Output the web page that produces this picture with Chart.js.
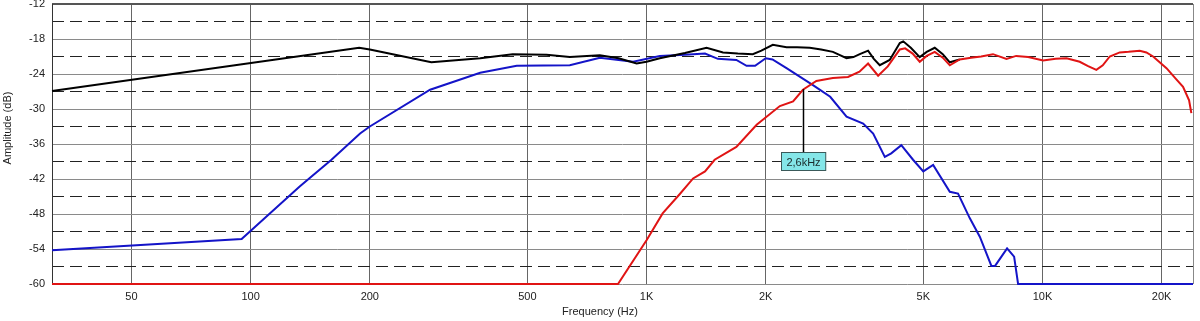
<!DOCTYPE html>
<html>
<head>
<meta charset="utf-8">
<script src="https://cdn.jsdelivr.net/npm/chart.js@4/dist/chart.umd.min.js"></script>
<style>
    body { margin: 0; background: #fff; }
    .grap-container { width: 1200px; height: 321px; position: relative; }
</style>
</head>
<body>
<div class="grap-container"><canvas id="chart"></canvas></div>
<script>
// frequency ticks
var xTicks = [50, 100, 200, 500, 1000, 2000, 5000, 10000, 20000];
var xTickLabels = ['50', '100', '200', '500', '1K', '2K', '5K', '10K', '20K'];

// summed response (black)
var sumFreq = [31.5, 188, 200, 286, 380, 459, 559, 640, 762, 850, 944, 1000, 1080, 1250, 1418, 1560, 1700, 1855, 1950, 2084, 2257, 2400, 2583, 2760, 2956, 3200, 3330, 3456, 3627, 3750, 3882, 4113, 4362, 4450, 4650, 4898, 5100, 5345, 5600, 5834, 6180];
var sumDb = [-26.9, -19.5, -19.8, -22.0, -21.3, -20.6, -20.7, -21.1, -20.8, -21.3, -22.2, -21.9, -21.3, -20.4, -19.5, -20.3, -20.5, -20.6, -20.0, -19.0, -19.4, -19.4, -19.5, -19.8, -20.2, -21.3, -21.1, -20.6, -20.0, -21.4, -22.5, -21.6, -18.7, -18.4, -19.5, -21.1, -20.2, -19.5, -20.6, -22.0, -21.5];

// woofer (blue)
var wooferFreq = [31.5, 94.9, 133, 160, 189, 200, 284, 380, 470, 640, 762, 925, 1080, 1250, 1405, 1514, 1686, 1789, 1880, 2000, 2080, 2257, 2632, 2910, 3200, 3525, 3736, 3998, 4150, 4400, 4711, 5000, 5295, 5834, 6120, 6550, 6946, 7430, 7590, 8140, 8480, 8678, 24000];
var wooferDb = [-54.2, -52.3, -43.3, -38.7, -34.2, -33.0, -26.7, -23.8, -22.6, -22.5, -21.2, -21.9, -20.9, -20.7, -20.5, -21.4, -21.6, -22.6, -22.6, -21.3, -21.5, -23.0, -25.9, -27.9, -31.3, -32.5, -34.2, -38.2, -37.6, -36.2, -38.7, -40.7, -39.6, -44.2, -44.5, -48.7, -51.9, -56.9, -56.9, -53.9, -55.3, -60, -60];

// tweeter (red)
var tweeterFreq = [31.5, 847, 1000, 1098, 1209, 1311, 1405, 1486, 1686, 1897, 2171, 2345, 2483, 2685, 2955, 3227, 3450, 3627, 3845, 4067, 4362, 4500, 4700, 4898, 5100, 5345, 5600, 5834, 6180, 6600, 7000, 7500, 8110, 8580, 9200, 10040, 10800, 11500, 12420, 13000, 13680, 14200, 14790, 15670, 16500, 17610, 18300, 19030, 20570, 21700, 22650, 23460, 23770];
var tweeterDb = [-60, -60, -52.5, -47.9, -44.7, -41.9, -40.7, -38.7, -36.5, -32.7, -29.5, -28.7, -26.7, -25.2, -24.7, -24.5, -23.6, -22.2, -24.3, -22.7, -19.8, -19.6, -20.5, -21.9, -20.9, -20.2, -21.2, -22.5, -21.5, -21.2, -21.0, -20.6, -21.4, -20.9, -21.1, -21.7, -21.4, -21.3, -21.9, -22.6, -23.3, -22.5, -21.0, -20.3, -20.2, -20.0, -20.3, -21.0, -23.0, -24.8, -26.2, -28.5, -30.7];

// crossover marker
var markerFreq = 2480;
var markerDb = [-26.6, -37.4];
var markerLabel = '2,6kHz';

function toPoints(freq, db) {
    return freq.map(function (f, i) {
        return { x: f, y: db[i] };
    });
}

var font = '11px "Liberation Sans", Arial, sans-serif';

var framePlugin = {
    id: 'frame',
    beforeDatasetsDraw: function (chart) {
        var ctx = chart.ctx, a = chart.chartArea;
        ctx.save();
        ctx.strokeStyle = '#555';
        ctx.lineWidth = 2;
        ctx.beginPath();
        ctx.moveTo(a.left, a.top);
        ctx.lineTo(a.right, a.top);
        ctx.stroke();
        ctx.lineWidth = 1;
        ctx.strokeStyle = '#888';
        ctx.beginPath();
        ctx.moveTo(a.right + 0.5, a.top);
        ctx.lineTo(a.right + 0.5, a.bottom);
        ctx.stroke();
        ctx.strokeStyle = '#333';
        ctx.beginPath();
        ctx.moveTo(a.left + 0.5, a.top);
        ctx.lineTo(a.left + 0.5, a.bottom);
        ctx.stroke();
        ctx.restore();
    },
    afterDraw: function (chart) {
        var ctx = chart.ctx;
        var xs = chart.scales.x, ys = chart.scales.y;
        ctx.save();
        ctx.font = font;
        ctx.fillStyle = '#222';
        ctx.textAlign = 'center';
        ctx.textBaseline = 'middle';
        ctx.fillText('Frequency (Hz)', 600, 312);
        ctx.translate(8, 128);
        ctx.rotate(-Math.PI / 2);
        ctx.fillText('Amplitude (dB)', 0, 0);
        ctx.restore();

        // marker line + label
        var px = Math.round(xs.getPixelForValue(markerFreq)) + 0.5;
        var y1 = ys.getPixelForValue(markerDb[0]);
        var y2 = ys.getPixelForValue(markerDb[1]);
        ctx.save();
        ctx.strokeStyle = '#000';
        ctx.lineWidth = 1.5;
        ctx.beginPath();
        ctx.moveTo(px, y1);
        ctx.lineTo(px, y2);
        ctx.stroke();
        ctx.font = font;
        var w = ctx.measureText(markerLabel).width + 10;
        var h = 18;
        var bx = Math.round(px - w / 2) + 0.5, by = Math.round(y2) + 0.5;
        ctx.fillStyle = '#84e6e8';
        ctx.fillRect(bx, by, w, h);
        ctx.strokeStyle = '#3a5a5a';
        ctx.lineWidth = 1;
        ctx.strokeRect(bx, by, w, h);
        ctx.fillStyle = '#1a2a2a';
        ctx.textAlign = 'center';
        ctx.textBaseline = 'middle';
        ctx.fillText(markerLabel, px, by + h / 2 + 1);
        ctx.restore();
    }
};

function loadChart() {
    var ctx = document.getElementById('chart');
    var config = {
        type: 'line',
        data: {
            datasets: [{
                label: 'tweeter',
                data: toPoints(tweeterFreq, tweeterDb),
                borderColor: '#e01414',
                borderWidth: 2,
                clip: 3
            }, {
                label: 'sum',
                data: toPoints(sumFreq, sumDb),
                borderColor: '#000',
                borderWidth: 2,
                clip: 3
            }, {
                label: 'woofer',
                data: toPoints(wooferFreq, wooferDb),
                borderColor: '#1414c8',
                borderWidth: 2,
                clip: 3
            }]
        },
        options: {
            responsive: true,
            maintainAspectRatio: false,
            animation: false,
            layout: { padding: { top: 4, right: 7, left: 0, bottom: 0 } },
            elements: { point: { radius: 0 }, line: { tension: 0 } },
            plugins: { legend: { display: false }, tooltip: { enabled: false } },
            scales: {
                x: {
                    type: 'logarithmic',
                    min: 31.5,
                    max: 24000,
                    afterBuildTicks: function (scale) {
                        scale.ticks = xTicks.map(function (v) { return { value: v }; });
                    },
                    afterFit: function (scale) {
                        scale.height = 37;
                        scale.paddingLeft = 0;
                        scale.paddingRight = 0;
                    },
                    ticks: {
                        autoSkip: false,
                        maxRotation: 0,
                        padding: 6,
                        color: '#222',
                        font: { family: '"Liberation Sans", Arial, sans-serif', size: 11 },
                        callback: function (val, i) { return xTickLabels[i]; }
                    },
                    grid: { color: '#666', lineWidth: 1, drawTicks: false },
                    border: { display: false }
                },
                y: {
                    min: -60,
                    max: -12,
                    afterFit: function (scale) {
                        scale.width = 52;
                        scale.paddingTop = 0;
                        scale.paddingBottom = 0;
                    },
                    ticks: {
                        stepSize: 3,
                        padding: 7,
                        color: '#222',
                        font: { family: '"Liberation Sans", Arial, sans-serif', size: 11 },
                        callback: function (val) { return val % 6 === 0 ? String(val) : ''; }
                    },
                    grid: {
                        drawTicks: false,
                        lineWidth: 1,
                        color: function (c) {
                            return c.tick && c.tick.value % 6 !== 0 ? '#222' : '#8a8a8a';
                        }
                    },
                    border: {
                        display: false,
                        dash: function (c) {
                            return c.tick && c.tick.value % 6 !== 0 ? [12, 6] : [];
                        }
                    }
                }
            }
        },
        plugins: [framePlugin]
    };
    new Chart(ctx, config);
}

loadChart();
</script>
</body>
</html>
